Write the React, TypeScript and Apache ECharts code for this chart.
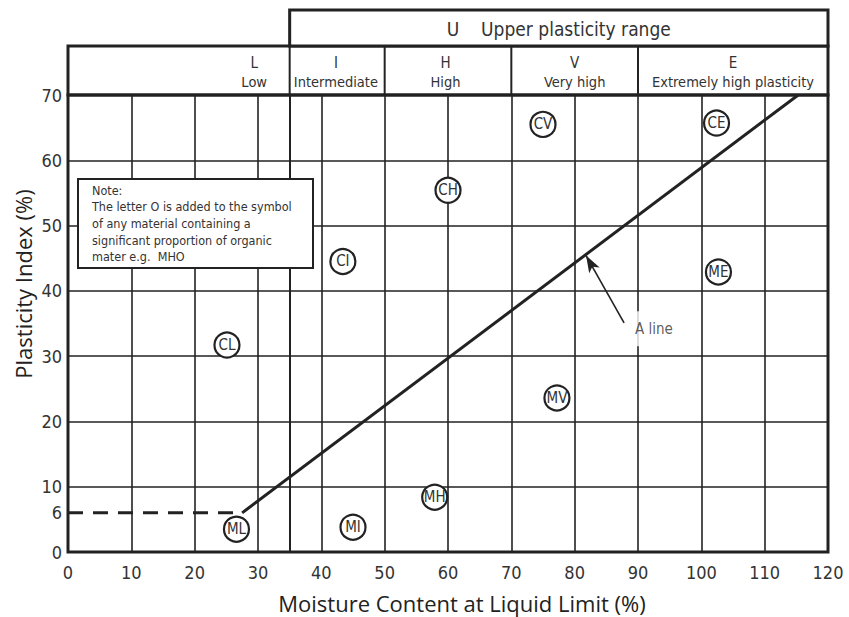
import React, { useEffect, useRef } from "react";
import * as echarts from "echarts";

// ---- data ----
const xTickInterval = 10;
const xMin = 0;
const xMax = 120;
const yMin = 0;
const yMax = 70;
const yTickLabels = [0, 6, 10, 20, 30, 40, 50, 60, 70];

const zoneBounds = [0, 35, 50, 70, 90, 120];
const zoneCodes = ["L", "I", "H", "V", "E"];
const zoneNames = ["Low", "Intermediate", "High", "Very high", "Extremely high plasticity"];
const zoneLabelLL = [29.4, 42.3, 59.6, 80, 105];
const upperRange = [35, 120];
const upperLabel = "U    Upper plasticity range";

const symbolNames = ["CV", "CE", "CH", "CI", "ME", "CL", "MV", "MH", "MI", "ML"];
const symbolLL = [75.0, 102.4, 60.0, 43.4, 102.7, 25.1, 77.2, 57.9, 45.0, 26.6];
const symbolPI = [65.5, 65.7, 55.4, 44.5, 42.9, 31.7, 23.6, 8.4, 3.8, 3.5];

const aLineDashedLL = [0, 27.5];
const aLineDashedPI = [6, 6];
const aLineLL = [27.5, 115.3];
const aLinePI = [6, 70];
const arrowFrom = [87.8, 35.1];
const arrowTo = [81.8, 45.4];
const aLineText = "A line";
const aLineTextAt = [89.2, 34.2];
const boundaryLL = 35;

const noteLines = [
  "Note:",
  "The letter O is added to the symbol",
  "of any material containing a",
  "significant proportion of organic",
  "mater e.g.  MHO",
];
const xTitle = "Moisture Content at Liquid Limit (%)";
const yTitle = "Plasticity Index (%)";

// ---- styles ----
const cond = "'DejaVu Sans Condensed', 'Liberation Sans Narrow', 'Roboto Condensed', Roboto, sans-serif";
const titleFont = "'Open Sans', 'Noto Sans', sans-serif";
const ink = "#222";
const textInk = "#333";

export default function App() {
  const ref = useRef<HTMLDivElement>(null);
  useEffect(() => {
    document.body.style.margin = "0";
    const chart = echarts.init(ref.current!, null, { renderer: "svg" });

    const option: any = {
      animation: false,
      backgroundColor: "#fff",
      grid: [
        { left: 68, right: 21, top: 95, bottom: 65, show: true, borderColor: ink, borderWidth: 3, backgroundColor: "transparent" },
        { left: 68, right: 21, top: 46, height: 49, show: true, borderColor: ink, borderWidth: 3, backgroundColor: "transparent" },
        { left: 68, right: 21, top: 10, height: 36, show: false },
      ],
      xAxis: [
        {
          type: "value", gridIndex: 0, min: xMin, max: xMax, interval: xTickInterval,
          axisLine: { show: false }, axisTick: { show: false },
          splitLine: { show: true, lineStyle: { color: ink, width: 1.6 } },
          axisLabel: { color: textInk, fontSize: 18, fontFamily: cond, margin: 11 },
        },
        { type: "value", gridIndex: 1, min: xMin, max: xMax, show: false },
        { type: "value", gridIndex: 2, min: xMin, max: xMax, show: false },
      ],
      yAxis: [
        {
          type: "value", gridIndex: 0, min: yMin, max: yMax, interval: 10,
          axisLine: { show: false }, axisTick: { show: false },
          splitLine: { show: true, lineStyle: { color: ink, width: 1.6 } },
          axisLabel: { color: textInk, fontSize: 18, fontFamily: cond, margin: 6, customValues: yTickLabels },
        },
        { type: "value", gridIndex: 1, min: 0, max: 1, show: false },
        { type: "value", gridIndex: 2, min: 0, max: 1, show: false },
      ],
      series: [
        {
          type: "line", name: "A line dashed", xAxisIndex: 0, yAxisIndex: 0,
          data: aLineDashedLL.map((v, i) => [v, aLineDashedPI[i]]),
          symbol: "none", lineStyle: { color: ink, width: 3, type: [15, 10] }, z: 3,
          markLine: {
            silent: true, symbol: ["none", "none"], label: { show: false },
            lineStyle: { color: ink, width: 2, type: "solid" },
            data: [{ xAxis: boundaryLL }],
          },
        },
        {
          type: "line", name: "A line", xAxisIndex: 0, yAxisIndex: 0,
          data: aLineLL.map((v, i) => [v, aLinePI[i]]),
          symbol: "none", lineStyle: { color: ink, width: 3 }, z: 3,
          markLine: {
            silent: true, symbol: ["none", "arrow"], symbolSize: [9, 17], label: { show: false },
            lineStyle: { color: ink, width: 1.6, type: "solid" },
            data: [[{ coord: arrowFrom }, { coord: arrowTo }]],
          },
        },
        {
          type: "scatter", name: "A line label", xAxisIndex: 0, yAxisIndex: 0,
          data: [aLineTextAt], symbolSize: 0, z: 6,
          label: {
            show: true, position: "right", distance: 0, formatter: aLineText,
            color: textInk, fontSize: 15, fontFamily: cond,
            backgroundColor: "#fff", padding: [10, 2, 10, 2],
          },
        },
        {
          type: "scatter", name: "Soil groups", xAxisIndex: 0, yAxisIndex: 0,
          data: symbolNames.map((n, i) => ({ name: n, value: [symbolLL[i], symbolPI[i]] })),
          symbol: "circle", symbolSize: 25, z: 5,
          itemStyle: { color: "#fff", borderColor: ink, borderWidth: 2.2, opacity: 1 },
          label: { show: true, position: "inside", formatter: "{b}", color: textInk, fontSize: 15, fontFamily: cond },
        },
        {
          type: "custom", name: "zones", xAxisIndex: 1, yAxisIndex: 1,
          data: zoneCodes.map((_, i) => [zoneBounds[i], zoneBounds[i + 1], zoneLabelLL[i]]),
          renderItem: (params: any, api: any) => {
            const i = params.dataIndex;
            const top = api.coord([api.value(0), 1]);
            const bot = api.coord([api.value(1), 0]);
            const cx = api.coord([api.value(2), 0])[0];
            return {
              type: "group",
              children: [
                { type: "line", shape: { x1: bot[0], y1: top[1], x2: bot[0], y2: bot[1] }, style: { stroke: ink, lineWidth: 2 } },
                { type: "text", x: cx, y: top[1] + 17, style: { text: zoneCodes[i], fill: textInk, fontSize: 15, fontFamily: cond, align: "center", verticalAlign: "middle" } },
                { type: "text", x: cx, y: top[1] + 36, style: { text: zoneNames[i], fill: textInk, fontSize: 14.5, fontFamily: cond, align: "center", verticalAlign: "middle" } },
              ],
            };
          },
        },
        {
          type: "custom", name: "upper", xAxisIndex: 2, yAxisIndex: 2,
          data: [upperRange],
          renderItem: (params: any, api: any) => {
            const a = api.coord([api.value(0), 1]);
            const b = api.coord([api.value(1), 0]);
            return {
              type: "group",
              children: [
                { type: "rect", shape: { x: a[0], y: a[1], width: b[0] - a[0], height: b[1] - a[1] }, style: { fill: "#fff", stroke: ink, lineWidth: 3 } },
                { type: "text", x: (a[0] + b[0]) / 2, y: (a[1] + b[1]) / 2 + 1, style: { text: upperLabel, fill: textInk, fontSize: 19, fontFamily: cond, align: "center", verticalAlign: "middle" } },
              ],
            };
          },
        },
      ],
      graphic: [
        {
          type: "group", left: 77, top: 178, z: 100,
          children: [
            { type: "rect", z: 100, shape: { x: 0, y: 0, width: 235, height: 89 }, style: { fill: "#fff", stroke: ink, lineWidth: 2 } },
            { type: "text", z: 101, x: 14, y: 3, style: { text: noteLines.join("\n"), fill: textInk, fontSize: 12.5, lineHeight: 16.6, fontFamily: cond, verticalAlign: "top" } },
          ],
        },
        {
          type: "text", z: 100, x: 23, y: 284, rotation: Math.PI / 2,
          style: { text: yTitle, fill: ink, fontSize: 22, fontFamily: titleFont, align: "center", verticalAlign: "middle" },
        },
        {
          type: "text", z: 100, x: 462, y: 603,
          style: { text: xTitle, fill: ink, fontSize: 22, fontFamily: titleFont, align: "center", verticalAlign: "middle" },
        },
      ],
    };

    chart.setOption(option);
    return () => chart.dispose();
  }, []);
  return <div ref={ref} style={{ position: "fixed", left: 0, top: 0, width: 849, height: 617, background: "#fff" }} />;
}
